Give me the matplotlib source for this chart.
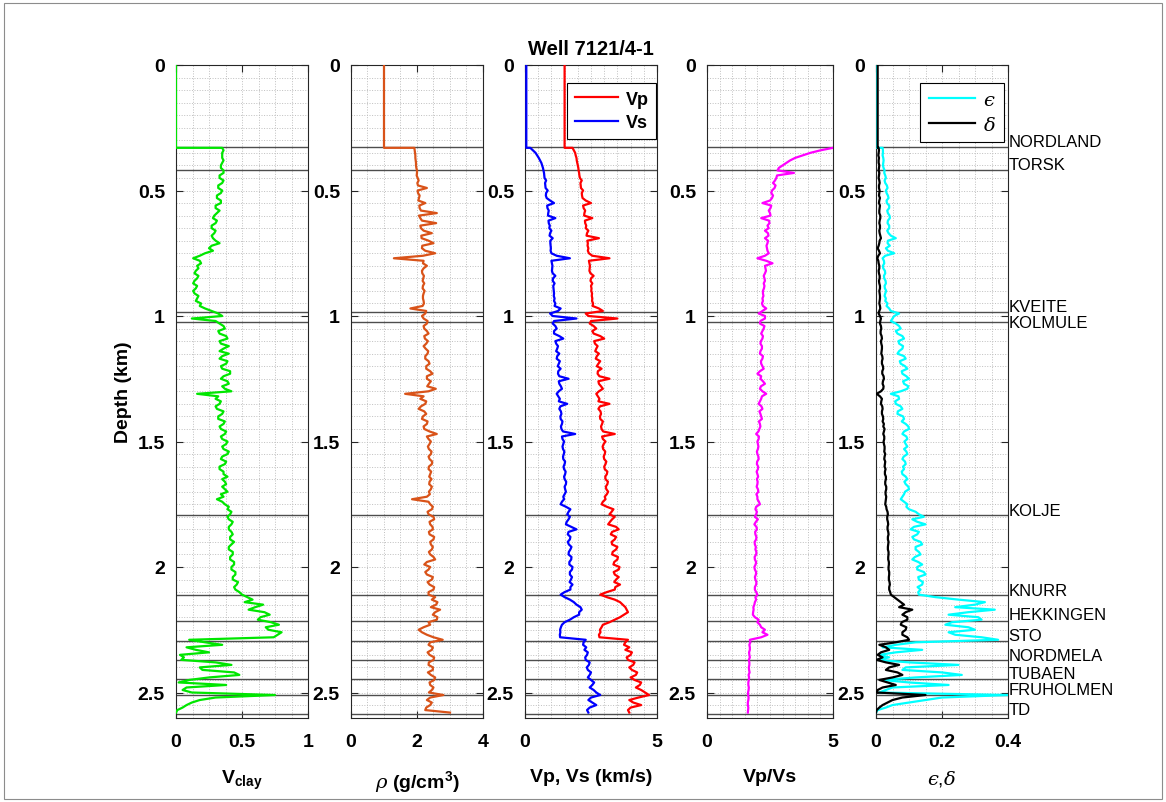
import numpy as np
import matplotlib
matplotlib.use('Agg')
import matplotlib.pyplot as plt
from matplotlib.ticker import MultipleLocator, FuncFormatter
from matplotlib.patches import Rectangle

plt.rcParams['font.family'] = ['Liberation Sans', 'DejaVu Sans']
plt.rcParams['mathtext.fontset'] = 'custom'
plt.rcParams['mathtext.rm'] = 'Liberation Sans'
plt.rcParams['mathtext.bf'] = 'Liberation Sans:bold'
plt.rcParams['mathtext.it'] = 'DejaVu Serif:italic'

# ---------------- data ----------------
top_depth = [0.0, 0.33]                                   # section above the first log sample (km)
log_depth = np.round(0.33 + 0.01 * np.arange(226), 2)     # log sample depths 0.33 .. 2.58 km

vclay_top = 0.0
vclay = [
    0.35, 0.36, 0.35, 0.35, 0.35, 0.36, 0.35, 0.34, 0.34, 0.36, 0.36, 0.33, 0.33, 0.36, 0.35, 0.32, 0.32, 0.35, 0.34, 0.31,
    0.31, 0.34, 0.34, 0.30, 0.30, 0.33, 0.31, 0.29, 0.28, 0.31, 0.30, 0.27, 0.27, 0.30, 0.29, 0.27, 0.28, 0.30, 0.33, 0.27,
    0.25, 0.28, 0.22, 0.18, 0.13, 0.18, 0.19, 0.16, 0.17, 0.15, 0.14, 0.17, 0.16, 0.14, 0.13, 0.16, 0.15, 0.13, 0.14, 0.17,
    0.16, 0.15, 0.19, 0.18, 0.22, 0.27, 0.32, 0.35, 0.12, 0.30, 0.33, 0.36, 0.37, 0.32, 0.33, 0.38, 0.39, 0.33, 0.34, 0.40,
    0.36, 0.33, 0.40, 0.35, 0.33, 0.39, 0.38, 0.34, 0.35, 0.41, 0.41, 0.36, 0.34, 0.39, 0.40, 0.35, 0.37, 0.42, 0.16, 0.32,
    0.30, 0.34, 0.33, 0.30, 0.31, 0.36, 0.35, 0.32, 0.32, 0.37, 0.36, 0.33, 0.34, 0.38, 0.37, 0.34, 0.35, 0.39, 0.38, 0.35,
    0.36, 0.40, 0.39, 0.35, 0.34, 0.38, 0.37, 0.33, 0.33, 0.36, 0.36, 0.39, 0.35, 0.37, 0.38, 0.35, 0.37, 0.39, 0.34, 0.36,
    0.31, 0.35, 0.37, 0.40, 0.39, 0.42, 0.41, 0.39, 0.40, 0.43, 0.42, 0.40, 0.40, 0.42, 0.43, 0.41, 0.41, 0.44, 0.42, 0.40,
    0.40, 0.43, 0.43, 0.41, 0.41, 0.44, 0.44, 0.42, 0.42, 0.45, 0.45, 0.43, 0.43, 0.47, 0.46, 0.44, 0.45, 0.48, 0.50, 0.54,
    0.58, 0.52, 0.66, 0.60, 0.55, 0.67, 0.71, 0.64, 0.62, 0.72, 0.78, 0.68, 0.70, 0.80, 0.77, 0.74, 0.10, 0.22, 0.35, 0.08,
    0.15, 0.25, 0.03, 0.06, 0.04, 0.30, 0.42, 0.18, 0.20, 0.44, 0.48, 0.25, 0.10, 0.02, 0.38, 0.08, 0.05, 0.12, 0.75, 0.30,
    0.18, 0.12, 0.08, 0.05, 0.01, 0.00]

rho_top = 1.0
rho = [
    1.92, 1.93, 1.94, 1.95, 1.95, 1.96, 1.97, 1.97, 1.98, 2.00, 2.00, 1.99, 2.02, 2.05, 2.01, 2.03, 2.30, 2.02, 2.03, 2.08,
    2.06, 2.04, 2.25, 2.07, 2.08, 2.12, 2.60, 2.06, 2.10, 2.15, 2.58, 2.10, 2.12, 2.20, 2.45, 2.13, 2.14, 2.35, 2.50, 2.16,
    2.15, 2.25, 2.55, 2.18, 1.30, 2.20, 2.18, 2.30, 2.20, 2.15, 2.16, 2.21, 2.19, 2.17, 2.22, 2.18, 2.17, 2.23, 2.20, 2.18,
    2.18, 2.20, 2.21, 2.17, 1.80, 2.28, 2.25, 2.15, 2.20, 2.32, 2.30, 2.20, 2.22, 2.30, 2.35, 2.22, 2.24, 2.33, 2.28, 2.20,
    2.26, 2.34, 2.32, 2.25, 2.25, 2.35, 2.38, 2.28, 2.28, 2.40, 2.47, 2.30, 2.30, 2.42, 2.36, 2.31, 2.57, 2.35, 1.64, 2.20,
    2.10, 2.28, 2.25, 2.12, 2.05, 2.22, 2.28, 2.18, 2.15, 2.32, 2.30, 2.20, 2.22, 2.38, 2.60, 2.30, 2.35, 2.42, 2.38, 2.33,
    2.36, 2.44, 2.42, 2.35, 2.38, 2.46, 2.45, 2.36, 2.35, 2.43, 2.40, 2.37, 2.44, 2.38, 2.37, 2.45, 2.42, 2.36, 2.39, 2.30,
    1.85, 2.35, 2.40, 2.48, 2.45, 2.32, 2.35, 2.50, 2.52, 2.38, 2.40, 2.47, 2.48, 2.36, 2.38, 2.52, 2.50, 2.40, 2.42, 2.48,
    2.45, 2.36, 2.40, 2.50, 2.55, 2.30, 2.22, 2.40, 2.35, 2.25, 2.30, 2.48, 2.45, 2.32, 2.38, 2.52, 2.50, 2.35, 2.35, 2.55,
    2.45, 2.62, 2.58, 2.42, 2.70, 2.55, 2.48, 2.62, 2.60, 2.35, 2.40, 2.20, 2.05, 2.15, 2.30, 2.50, 2.78, 2.40, 2.35, 2.48,
    2.45, 2.32, 2.38, 2.52, 2.50, 2.36, 2.35, 2.48, 2.48, 2.33, 2.42, 2.55, 2.52, 2.38, 2.40, 2.50, 2.45, 2.36, 2.80, 2.40,
    2.30, 2.45, 2.40, 2.28, 2.25, 3.00]

vp_top = 1.50
vp = [
    1.80, 1.85, 1.90, 1.92, 1.95, 1.96, 1.98, 2.00, 2.02, 2.03, 2.05, 2.06, 2.08, 2.15, 2.10, 2.11, 2.12, 2.20, 2.15, 2.16,
    2.18, 2.30, 2.50, 2.20, 2.22, 2.28, 2.25, 2.24, 2.55, 2.27, 2.28, 2.32, 2.30, 2.40, 2.35, 2.33, 2.80, 2.36, 2.38, 2.37,
    2.40, 2.38, 2.42, 2.55, 3.20, 2.42, 2.44, 2.46, 2.45, 2.44, 2.48, 2.60, 2.50, 2.48, 2.55, 2.50, 2.52, 2.51, 2.54, 2.53,
    2.55, 2.54, 2.58, 2.56, 2.80, 2.95, 2.30, 2.40, 3.50, 2.50, 2.45, 2.60, 2.70, 2.55, 2.60, 2.85, 3.00, 2.62, 2.65, 2.75,
    2.70, 2.66, 2.80, 2.72, 2.68, 2.85, 2.78, 2.72, 2.90, 2.76, 2.75, 2.82, 3.20, 2.78, 2.80, 2.88, 2.95, 2.80, 2.70, 2.76,
    2.82, 2.78, 3.20, 2.84, 2.78, 2.86, 2.88, 2.84, 2.85, 2.95, 2.92, 2.88, 2.90, 2.96, 3.40, 2.92, 2.95, 3.05, 2.98, 2.94,
    2.96, 3.04, 3.02, 2.98, 3.00, 3.08, 3.05, 3.00, 3.02, 3.12, 3.10, 3.04, 3.05, 3.14, 3.12, 3.06, 3.08, 3.15, 3.10, 3.02,
    3.05, 2.95, 2.90, 3.10, 3.35, 3.28, 3.20, 3.40, 3.30, 3.22, 3.15, 3.45, 3.55, 3.30, 3.25, 3.45, 3.40, 3.28, 3.30, 3.50,
    3.45, 3.32, 3.30, 3.52, 3.50, 3.38, 3.35, 3.58, 3.55, 3.36, 3.40, 3.55, 3.45, 3.38, 3.60, 3.42, 3.40, 3.10, 2.85, 3.10,
    3.40, 3.60, 3.70, 3.80, 3.85, 3.90, 3.75, 3.60, 3.40, 3.20, 2.95, 2.90, 2.84, 2.86, 2.80, 2.82, 3.90, 3.80, 3.75, 3.95,
    3.80, 4.05, 4.00, 3.85, 3.90, 4.15, 4.10, 3.95, 4.05, 4.25, 4.20, 4.00, 4.15, 4.40, 4.35, 4.20, 4.40, 4.55, 4.70, 4.30,
    3.95, 4.10, 4.40, 4.00, 3.90, 3.95]

vs_top = 0.05
vs = [
    0.20, 0.30, 0.40, 0.46, 0.52, 0.57, 0.62, 0.65, 0.68, 0.70, 0.72, 0.73, 0.74, 0.80, 0.76, 0.77, 0.78, 0.86, 0.80, 0.79,
    0.82, 0.95, 1.10, 0.84, 0.85, 0.90, 0.88, 0.87, 1.15, 0.89, 0.90, 0.94, 0.92, 1.00, 0.95, 0.93, 1.05, 0.96, 0.96, 0.97,
    0.98, 0.97, 1.00, 1.20, 1.70, 1.00, 1.02, 1.04, 1.03, 1.02, 1.05, 1.15, 1.06, 1.05, 1.12, 1.07, 1.08, 1.09, 1.10, 1.09,
    1.12, 1.10, 1.15, 1.12, 1.35, 1.25, 0.95, 1.05, 1.95, 1.10, 1.05, 1.15, 1.20, 1.10, 1.10, 1.30, 1.45, 1.15, 1.18, 1.25,
    1.22, 1.18, 1.30, 1.22, 1.20, 1.32, 1.28, 1.24, 1.35, 1.26, 1.25, 1.30, 1.65, 1.28, 1.30, 1.36, 1.40, 1.28, 1.20, 1.26,
    1.32, 1.28, 1.60, 1.34, 1.30, 1.36, 1.38, 1.34, 1.35, 1.42, 1.40, 1.36, 1.38, 1.44, 1.90, 1.40, 1.42, 1.48, 1.45, 1.42,
    1.44, 1.49, 1.47, 1.44, 1.45, 1.52, 1.50, 1.46, 1.48, 1.54, 1.52, 1.48, 1.50, 1.56, 1.55, 1.50, 1.52, 1.55, 1.50, 1.45,
    1.48, 1.40, 1.35, 1.55, 1.72, 1.65, 1.60, 1.70, 1.65, 1.58, 1.55, 1.75, 1.95, 1.65, 1.62, 1.72, 1.70, 1.62, 1.66, 1.76,
    1.72, 1.66, 1.65, 1.76, 1.75, 1.68, 1.68, 1.80, 1.78, 1.70, 1.70, 1.78, 1.74, 1.69, 1.80, 1.72, 1.72, 1.50, 1.35, 1.50,
    1.70, 1.85, 1.95, 2.10, 2.15, 2.05, 2.05, 1.85, 1.70, 1.50, 1.40, 1.36, 1.33, 1.34, 1.32, 1.33, 2.30, 2.22, 2.20, 2.32,
    2.25, 2.38, 2.35, 2.28, 2.30, 2.45, 2.42, 2.34, 2.38, 2.50, 2.45, 2.38, 2.50, 2.62, 2.55, 2.45, 2.60, 2.70, 2.85, 2.50,
    2.40, 2.55, 2.70, 2.45, 2.35, 2.40]

vpvs = [
    5.00, 4.50, 4.10, 3.80, 3.50, 3.30, 3.15, 3.00, 2.85, 2.80, 3.45, 2.78, 2.75, 2.70, 2.62, 2.72, 2.68, 2.58, 2.55, 2.62,
    2.58, 2.50, 2.20, 2.55, 2.52, 2.45, 2.50, 2.52, 2.15, 2.46, 2.48, 2.40, 2.45, 2.30, 2.42, 2.44, 2.30, 2.42, 2.40, 2.36,
    2.38, 2.40, 2.45, 2.30, 2.00, 2.35, 2.60, 2.30, 2.32, 2.34, 2.30, 2.25, 2.28, 2.30, 2.25, 2.28, 2.26, 2.22, 2.22, 2.24,
    2.20, 2.22, 2.18, 2.22, 2.35, 2.20, 2.05, 2.30, 2.30, 2.12, 2.10, 2.28, 2.25, 2.20, 2.15, 2.22, 2.20, 2.14, 2.12, 2.18,
    2.18, 2.12, 2.10, 2.22, 2.20, 2.14, 2.15, 2.20, 2.25, 2.10, 2.00, 2.15, 2.12, 2.22, 2.30, 2.14, 2.10, 2.20, 2.35, 2.18,
    2.15, 2.10, 2.05, 2.16, 2.20, 2.08, 2.12, 2.15, 2.18, 2.06, 2.10, 2.12, 2.08, 2.04, 1.95, 2.06, 2.05, 2.00, 2.02, 2.04,
    2.02, 1.98, 2.00, 2.04, 2.05, 1.99, 1.98, 2.03, 2.02, 1.97, 2.00, 2.03, 1.98, 2.01, 2.00, 1.97, 2.02, 2.04, 1.96, 2.00,
    2.00, 2.06, 2.10, 1.95, 1.92, 1.98, 1.95, 1.90, 2.02, 1.94, 1.88, 1.96, 1.98, 1.91, 1.92, 1.96, 1.95, 1.89, 1.90, 1.94,
    1.92, 1.96, 1.95, 1.89, 1.90, 1.95, 1.93, 1.88, 1.90, 1.95, 1.94, 1.90, 1.92, 1.96, 1.95, 1.90, 1.90, 1.95, 2.00, 1.92,
    1.95, 1.90, 1.88, 1.84, 1.85, 1.83, 1.82, 1.90, 2.05, 2.00, 2.10, 2.15, 2.30, 2.20, 2.40, 2.15, 1.70, 1.72, 1.68, 1.70,
    1.70, 1.67, 1.68, 1.70, 1.66, 1.68, 1.68, 1.66, 1.67, 1.69, 1.65, 1.67, 1.66, 1.64, 1.64, 1.66, 1.65, 1.63, 1.63, 1.65,
    1.64, 1.62, 1.62, 1.64, 1.63, 1.62]

eps_top = 0.0
eps = [
    0.020, 0.021, 0.021, 0.020, 0.022, 0.023, 0.022, 0.021, 0.023, 0.026, 0.025, 0.028, 0.030, 0.026, 0.028, 0.033, 0.035, 0.030, 0.032, 0.036,
    0.038, 0.032, 0.033, 0.040, 0.040, 0.034, 0.036, 0.041, 0.042, 0.036, 0.035, 0.040, 0.040, 0.034, 0.038, 0.045, 0.060, 0.036, 0.035, 0.042,
    0.030, 0.036, 0.055, 0.028, 0.020, 0.024, 0.025, 0.021, 0.022, 0.027, 0.028, 0.024, 0.025, 0.029, 0.030, 0.026, 0.027, 0.031, 0.028, 0.026,
    0.030, 0.028, 0.035, 0.032, 0.040, 0.045, 0.070, 0.055, 0.050, 0.045, 0.060, 0.070, 0.075, 0.060, 0.065, 0.080, 0.085, 0.068, 0.070, 0.082,
    0.080, 0.070, 0.065, 0.085, 0.090, 0.072, 0.075, 0.088, 0.095, 0.078, 0.080, 0.092, 0.100, 0.082, 0.085, 0.098, 0.095, 0.075, 0.045, 0.068,
    0.070, 0.058, 0.060, 0.075, 0.080, 0.066, 0.065, 0.082, 0.085, 0.078, 0.090, 0.098, 0.100, 0.085, 0.080, 0.092, 0.095, 0.086, 0.090, 0.095,
    0.085, 0.092, 0.095, 0.084, 0.080, 0.088, 0.090, 0.082, 0.085, 0.078, 0.080, 0.090, 0.095, 0.086, 0.090, 0.098, 0.100, 0.088, 0.085, 0.080,
    0.075, 0.085, 0.095, 0.092, 0.100, 0.120, 0.130, 0.145, 0.110, 0.125, 0.150, 0.115, 0.105, 0.130, 0.125, 0.110, 0.115, 0.135, 0.140, 0.120,
    0.120, 0.130, 0.135, 0.118, 0.110, 0.128, 0.140, 0.125, 0.125, 0.145, 0.150, 0.128, 0.130, 0.142, 0.140, 0.126, 0.135, 0.128, 0.130, 0.180,
    0.250, 0.330, 0.300, 0.240, 0.360, 0.280, 0.220, 0.310, 0.320, 0.230, 0.210, 0.280, 0.300, 0.220, 0.240, 0.320, 0.370, 0.120, 0.060, 0.020,
    0.140, 0.060, 0.010, 0.040, 0.005, 0.100, 0.250, 0.090, 0.080, 0.200, 0.260, 0.120, 0.020, 0.100, 0.220, 0.050, 0.030, 0.010, 0.400, 0.200,
    0.150, 0.100, 0.050, 0.030, 0.005, 0.000]

delta_top = 0.005
delta = [
    0.008, 0.009, 0.008, 0.007, 0.009, 0.008, 0.008, 0.010, 0.009, 0.008, 0.010, 0.009, 0.008, 0.010, 0.011, 0.009, 0.009, 0.011, 0.010, 0.009,
    0.012, 0.010, 0.009, 0.012, 0.011, 0.010, 0.010, 0.013, 0.013, 0.011, 0.010, 0.012, 0.012, 0.010, 0.011, 0.013, 0.015, 0.011, 0.010, 0.008,
    0.005, 0.009, 0.012, 0.007, 0.004, 0.007, 0.008, 0.010, 0.010, 0.008, 0.009, 0.011, 0.011, 0.009, 0.010, 0.012, 0.012, 0.010, 0.011, 0.012,
    0.012, 0.011, 0.010, 0.012, 0.013, 0.010, 0.008, 0.012, 0.015, 0.013, 0.012, 0.015, 0.016, 0.014, 0.014, 0.017, 0.018, 0.015, 0.016, 0.018,
    0.018, 0.017, 0.016, 0.019, 0.020, 0.018, 0.018, 0.021, 0.022, 0.019, 0.019, 0.023, 0.024, 0.021, 0.020, 0.023, 0.022, 0.015, 0.002, 0.012,
    0.018, 0.016, 0.015, 0.019, 0.020, 0.018, 0.018, 0.021, 0.022, 0.020, 0.024, 0.022, 0.026, 0.024, 0.022, 0.025, 0.025, 0.023, 0.024, 0.026,
    0.026, 0.025, 0.028, 0.026, 0.025, 0.028, 0.027, 0.026, 0.029, 0.027, 0.027, 0.030, 0.030, 0.028, 0.028, 0.031, 0.031, 0.029, 0.029, 0.031,
    0.030, 0.029, 0.028, 0.031, 0.032, 0.035, 0.036, 0.034, 0.034, 0.036, 0.037, 0.035, 0.035, 0.037, 0.038, 0.036, 0.036, 0.038, 0.037, 0.036,
    0.036, 0.038, 0.038, 0.037, 0.037, 0.039, 0.039, 0.038, 0.038, 0.040, 0.040, 0.039, 0.039, 0.041, 0.042, 0.040, 0.040, 0.043, 0.045, 0.055,
    0.065, 0.075, 0.085, 0.070, 0.110, 0.090, 0.080, 0.095, 0.095, 0.078, 0.075, 0.092, 0.090, 0.080, 0.080, 0.095, 0.100, 0.060, 0.010, 0.030,
    0.040, 0.015, 0.005, 0.020, 0.002, 0.030, 0.070, 0.040, 0.030, 0.065, 0.080, 0.050, 0.010, 0.035, 0.060, 0.020, 0.005, 0.002, 0.150, 0.080,
    0.050, 0.035, 0.020, 0.010, 0.002, 0.000]

formation_names = ['NORDLAND', 'TORSK', 'KVEITE', 'KOLMULE', 'KOLJE', 'KNURR',
                   'HEKKINGEN', 'STO', 'NORDMELA', 'TUBAEN', 'FRUHOLMEN', 'TD']
formation_tops = [0.328, 0.418, 0.985, 1.023, 1.793, 2.112, 2.214, 2.294,
                  2.371, 2.446, 2.509, 2.586]
label_depths = [0.303, 0.398, 0.964, 1.024, 1.773, 2.092, 2.191, 2.271,
                2.351, 2.426, 2.490, 2.566]

for nm, arr in (('vclay', vclay), ('rho', rho), ('vp', vp), ('vs', vs),
                ('vpvs', vpvs), ('eps', eps), ('delta', delta)):
    assert len(arr) == len(log_depth), (nm, len(arr))

# ---------------- figure ----------------
W, H = 1166, 803
fig = plt.figure(figsize=(W / 100, H / 100), dpi=100)
fig.patches.append(Rectangle((4 / W, 3 / H), (W - 8) / W, (H - 7) / H,
                             transform=fig.transFigure, fill=False,
                             edgecolor='0.55', linewidth=0.8))

Y_TOP, Y_BOT = 66, 718.6
panel_px = [(176, 308), (351, 483), (525, 657), (707, 833), (876, 1008)]
axes = []
for x0, x1 in panel_px:
    ax = fig.add_axes([x0 / W, 1 - Y_BOT / H, (x1 - x0) / W, (Y_BOT - Y_TOP) / H])
    axes.append(ax)

def full(top, vals):
    return [top, top] + list(vals)

dfull = top_depth + list(log_depth)
LW = 1.6

ax1, ax2, ax3, ax4, ax5 = axes
ax1.plot(full(vclay_top, vclay), dfull, color='#00e600', lw=LW, zorder=3)
ax2.plot(full(rho_top, rho), dfull, color='#d95319', lw=LW, zorder=3)
ax3.plot(full(vp_top, vp), dfull, color='#ff0000', lw=LW, zorder=3, label='Vp')
ax3.plot(full(vs_top, vs), dfull, color='#0000ff', lw=LW, zorder=3, label='Vs')
ax4.plot(vpvs, log_depth, color='#ff00ff', lw=LW, zorder=3)
ax5.plot(full(eps_top, eps), dfull, color='#00ffff', lw=LW, zorder=3, label='$\u03f5$')
ax5.plot(full(delta_top, delta), dfull, color='black', lw=LW, zorder=3, label=r'$\delta$')

xlims = [(0, 1), (0, 4), (0, 5), (0, 5), (0, 0.4)]
xticks = [[0, 0.5, 1], [0, 2, 4], [0, 5], [0, 5], [0, 0.2, 0.4]]
xminor = [0.125, 0.5, 0.5, 0.5, 0.05]
xlabels = [r'$\mathbf{V_{clay}}$', r'$\rho$ (g/cm$^\mathbf{3}$)', 'Vp, Vs (km/s)',
           'Vp/Vs', '$\u03f5{,}\\delta$']
fmt = FuncFormatter(lambda v, p: f'{v:g}')

for i, ax in enumerate(axes):
    ax.set_xlim(*xlims[i])
    ax.set_ylim(2.6, 0)
    ax.set_xticks(xticks[i])
    ax.xaxis.set_minor_locator(MultipleLocator(xminor[i]))
    ax.yaxis.set_major_locator(MultipleLocator(0.5))
    ax.yaxis.set_minor_locator(MultipleLocator(0.05))
    ax.xaxis.set_major_formatter(fmt)
    ax.yaxis.set_major_formatter(fmt)
    ax.grid(which='both', linestyle=':', color='0.75', linewidth=0.7)
    ax.set_axisbelow(True)
    ax.tick_params(which='major', direction='in', top=True, right=True,
                   length=5, width=0.8, labelsize=14, color='0.15')
    ax.tick_params(axis='x', which='major', pad=11)
    ax.tick_params(axis='y', which='major', pad=8)
    ax.tick_params(which='minor', length=0)
    for lab in ax.get_xticklabels() + ax.get_yticklabels():
        lab.set_fontweight('bold')
    for s in ax.spines.values():
        s.set_color('0.15')
        s.set_linewidth(0.8)
    for d in formation_tops:
        ax.axhline(d, color='0.3', lw=1.0, zorder=2)
    wt = 'normal' if i == 4 else 'bold'
    ax.set_xlabel(xlabels[i], fontsize=14, fontweight=wt, labelpad=13)

ax1.set_ylabel('Depth (km)', fontsize=14, fontweight='bold', labelpad=4)

leg_kw = dict(loc='upper right', borderaxespad=0, fancybox=False, framealpha=1,
              edgecolor='black', handlelength=2.4, handletextpad=0.4,
              labelspacing=0.38, borderpad=0.42)
l3 = ax3.legend(bbox_to_anchor=(1 - 1 / 132, 1 - 18 / 652.6),
                prop={'weight': 'bold', 'size': 13}, **leg_kw)
l3.get_frame().set_linewidth(0.8)
l5 = ax5.legend(bbox_to_anchor=(1 - 4 / 132, 1 - 18 / 652.6),
                prop={'size': 14}, **leg_kw)
l5.get_frame().set_linewidth(0.8)

for name, d in zip(formation_names, label_depths):
    ax5.text(1.005, d, name, transform=ax5.get_yaxis_transform(), fontsize=12,
             va='center', ha='left', color='black')

ax3.set_title('Well 7121/4-1', fontsize=14.5, fontweight='bold', pad=8)

fig.savefig('out.png', dpi=100)
